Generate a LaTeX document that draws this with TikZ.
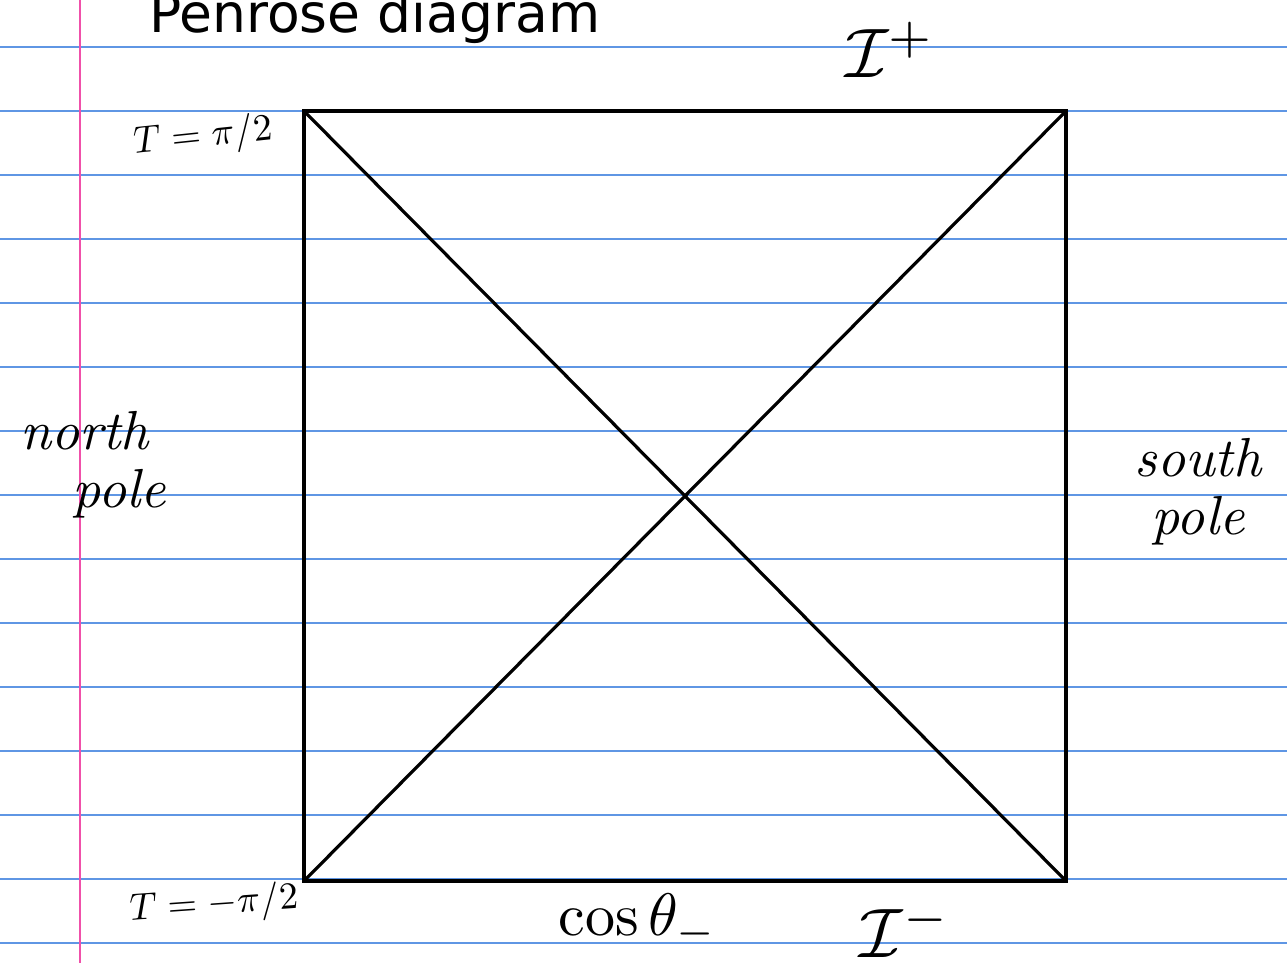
\documentclass[tikz,border=0pt]{standalone}
\usepackage{fontspec}
\newfontfamily\titlefont{DejaVu Sans}
\definecolor{ruleblue}{RGB}{95,150,228}
\definecolor{marginpink}{RGB}{240,80,170}
\begin{document}
\begin{tikzpicture}[x=1pt,y=-1pt,
  ruled/.style={draw=ruleblue,line width=1.3pt},
  marginline/.style={draw=marginpink,line width=1.6pt},
  edge/.style={draw=black,line width=3.6pt,line join=miter},
  diag/.style={draw=black,line width=3.2pt},
  hand/.style={font=\fontsize{10}{10.5}\selectfont\itshape,inner sep=0pt,align=center},
  handm/.style={font=\fontsize{10}{10.5}\selectfont,scale=7,inner sep=0pt}]
\useasboundingbox (0,0) rectangle (1287,963);
\fill[white] (0,0) rectangle (1287,963);
\foreach \i in {0,...,14} \draw[ruled] (0,{47+64*\i}) -- (1287,{47+64*\i});
\draw[marginline] (80,0) -- (80,963);
\node[anchor=base west,inner sep=0pt,font=\titlefont\fontsize{53.5}{53.5}\selectfont] (title) at (149,33) {Penrose diagram};
\coordinate (tl) at (304,111);
\coordinate (tr) at (1066,111);
\coordinate (br) at (1066,881);
\coordinate (bl) at (304,881);
\draw[edge] (tl) -- (tr) -- (br) -- (bl) -- cycle;
\draw[diag] (tl) -- (br);
\draw[diag] (bl) -- (tr);
\node[handm] (scriplus) at (890,50) {$\mathcal{I}^{+}$};
\node[handm] (scriminus) at (905,930) {$\mathcal{I}^{-}$};
\node[hand,scale=3.8,rotate=6] (tplus) at (203,137) {$T=\pi/2$};
\node[hand,scale=3.8,rotate=4] (tminus) at (214,905) {$T=-\pi/2$};
\node[hand,scale=5.5,align=left] (north) at (93,465) {north\\\hspace{0.95em}pole};
\node[hand,scale=5.5] (south) at (1198,492) {south\\pole};
\node[hand,scale=6] (cos) at (638,922) {$\cos\theta_{-}$};
\end{tikzpicture}
\end{document}
